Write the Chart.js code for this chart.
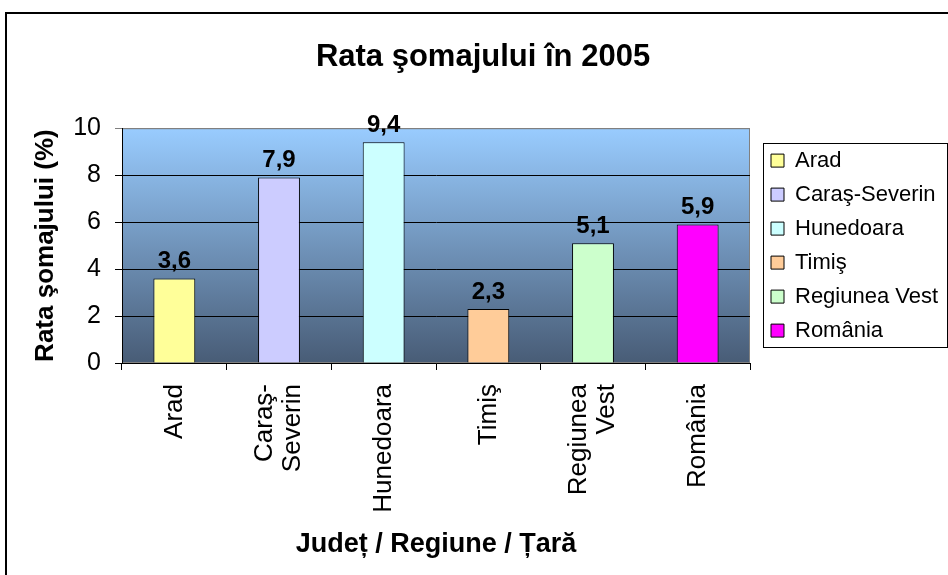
<!DOCTYPE html>
<html lang="ro">
<head>
<meta charset="utf-8">
<title>Rata şomajului în 2005</title>
<script src="https://cdn.jsdelivr.net/npm/chart.js@4.4.1/dist/chart.umd.min.js"></script>
<style>
  html, body { margin: 0; padding: 0; background: #fff; }
  .wrap { position: relative; width: 948px; height: 575px; overflow: hidden; }
  .frame { position: absolute; left: 5px; top: 12px; width: 1200px; height: 1200px; border: 2px solid #000; box-sizing: border-box; }
  canvas { position: absolute; left: 0; top: 0; }
</style>
</head>
<body>
<div class="wrap">
  <div class="frame"></div>
  <canvas id="chart" width="948" height="575"></canvas>
</div>
<script>
(function () {
  // data
  const categories = ["Arad", "Caraş-Severin", "Hunedoara", "Timiş", "Regiunea Vest", "România"];
  const tickLabels = [["Arad"], ["Caraş-", "Severin"], ["Hunedoara"], ["Timiş"], ["Regiunea", "Vest"], ["România"]];
  const rates = [3.6, 7.9, 9.4, 2.3, 5.1, 5.9];
  const barColors = ["#ffff99", "#ccccff", "#ccffff", "#ffcc99", "#ccffcc", "#ff00ff"];
  const yMin = 0;
  const yMax = 10;
  const yStep = 2;

  const FONT = '"Liberation Sans", Arial, sans-serif';
  const LEGEND_WIDTH = 198;
  const LEGEND_SHIFT = 9;

  const fmt = (v) => v.toFixed(1).replace(".", ",");

  const plotBackground = {
    id: "plotBackground",
    beforeDraw(chart) {
      const { ctx, chartArea: a } = chart;
      const g = ctx.createLinearGradient(0, a.top, 0, a.bottom);
      g.addColorStop(0, "#99ccff");
      g.addColorStop(1, "#485c76");
      ctx.save();
      ctx.fillStyle = g;
      ctx.fillRect(a.left, a.top, a.right - a.left, a.bottom - a.top);
      ctx.strokeStyle = "#808080";
      ctx.lineWidth = 1;
      ctx.strokeRect(a.left + 0.5, a.top + 0.5, a.right - a.left - 1, a.bottom - a.top - 1);
      ctx.restore();
    },
  };

  // rotated multi-line tick labels: centre the block of lines on the tick
  const centerTickLines = {
    id: "centerTickLines",
    beforeDraw(chart) {
      const scale = chart.scales.x;
      scale.getLabelItems(chart.chartArea).forEach((item) => {
        const lines = Array.isArray(item.label) ? item.label.length : 1;
        if (!item._centered) {
          item.textOffset -= ((lines - 1) * item.font.lineHeight) / 2;
          item._centered = true;
        }
      });
    },
  };

  const valueLabels = {
    id: "valueLabels",
    afterDatasetsDraw(chart) {
      const ctx = chart.ctx;
      const meta = chart.getDatasetMeta(0);
      ctx.save();
      ctx.font = `bold 24px ${FONT}`;
      ctx.fillStyle = "#000";
      ctx.textAlign = "center";
      ctx.textBaseline = "bottom";
      meta.data.forEach((bar, i) => {
        ctx.fillText(fmt(rates[i]), bar.x, bar.y - 5);
      });
      ctx.restore();
    },
  };

  // fixed-width legend with a frame, like the Excel one
  const legendBox = {
    id: "legendBox",
    beforeLayout(chart) {
      const lg = chart.legend;
      if (lg && !lg._fixedWidth) {
        const fit = lg.fit;
        lg.fit = function () {
          fit.call(this);
          this.width = LEGEND_WIDTH;
        };
        lg._fixedWidth = true;
      }
    },
    afterLayout(chart) {
      chart.legend.left += LEGEND_SHIFT;
      chart.legend.right += LEGEND_SHIFT;
    },
    afterDraw(chart) {
      const lg = chart.legend;
      const boxes = lg.legendHitBoxes;
      if (!boxes || !boxes.length) {
        return;
      }
      const first = boxes[0];
      const last = boxes[boxes.length - 1];
      const x0 = Math.round(first.left - 8) + 0.5;
      const y0 = Math.round(first.top - 7) + 0.5;
      const x1 = Math.round(lg.right - 10) + 0.5;
      const y1 = Math.round(last.top + last.height + 5) + 0.5;
      const ctx = chart.ctx;
      ctx.save();
      ctx.strokeStyle = "#000";
      ctx.lineWidth = 1;
      ctx.strokeRect(x0, y0, x1 - x0, y1 - y0);
      ctx.restore();
    },
  };

  new Chart(document.getElementById("chart"), {
    type: "bar",
    data: {
      labels: categories,
      datasets: [{
        label: "Rata şomajului (%)",
        data: rates,
        backgroundColor: barColors,
        borderColor: "#000",
        borderWidth: 1,
        barPercentage: 0.4,
        categoryPercentage: 1,
      }],
    },
    options: {
      responsive: false,
      animation: false,
      events: [],
      layout: { padding: { left: 18, right: 0, top: 0, bottom: 0 } },
      plugins: {
        title: {
          display: true,
          text: "Rata şomajului în 2005",
          color: "#000",
          font: { family: FONT, size: 31, weight: "bold" },
          padding: { top: 39, bottom: 52 },
        },
        legend: {
          position: "right",
          fullSize: false,
          labels: {
            color: "#000",
            font: { family: FONT, size: 22 },
            boxWidth: 13,
            boxHeight: 13,
            padding: 12,
            generateLabels(chart) {
              const ds = chart.data.datasets[0];
              return chart.data.labels.map((label, i) => ({
                text: label,
                fillStyle: ds.backgroundColor[i],
                strokeStyle: "#000",
                lineWidth: 1,
                hidden: false,
                index: i,
              }));
            },
          },
        },
        tooltip: { enabled: false },
      },
      scales: {
        x: {
          ticks: {
            color: "#000",
            font: { family: FONT, size: 26, lineHeight: 1.08 },
            minRotation: 90,
            maxRotation: 90,
            autoSkip: false,
            padding: 14,
            callback(value, index) {
              return tickLabels[index];
            },
          },
          grid: { drawOnChartArea: false, color: "#000", tickLength: 7, offset: true },
          border: { color: "#000" },
          title: {
            display: true,
            text: "Județ / Regiune / Țară",
            color: "#000",
            font: { family: FONT, size: 27, weight: "bold" },
            padding: { top: 0, bottom: 14 },
          },
          afterFit(scale) {
            scale.height = 212;
          },
        },
        y: {
          min: yMin,
          max: yMax,
          ticks: {
            stepSize: yStep,
            color: "#000",
            font: { family: FONT, size: 25 },
            padding: 14,
          },
          grid: {
            color: (c) => (c.tick && c.tick.value === yMax ? "#808080" : "#000"),
            tickLength: 7,
          },
          border: { color: "#000" },
          title: {
            display: true,
            text: "Rata şomajului (%)",
            color: "#000",
            font: { family: FONT, size: 26, weight: "bold" },
            padding: { top: 12, bottom: 0 },
          },
          afterFit(scale) {
            scale.width = 104;
          },
        },
      },
    },
    plugins: [plotBackground, centerTickLines, valueLabels, legendBox],
  });
})();
</script>
</body>
</html>
